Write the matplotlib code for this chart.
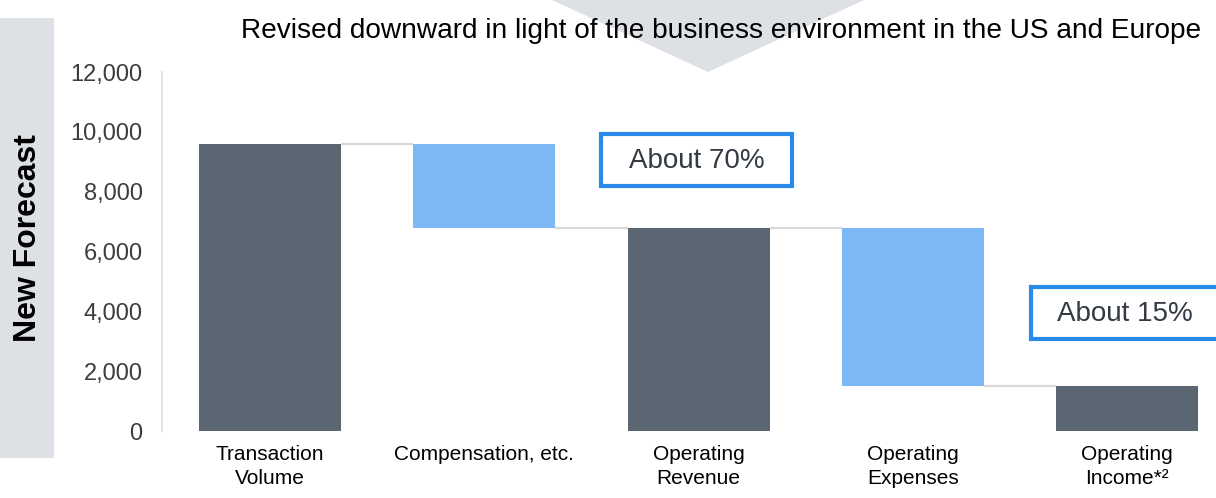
import matplotlib
matplotlib.use('Agg')
import matplotlib.pyplot as plt
from matplotlib.patches import Rectangle, Polygon

plt.rcParams['font.family'] = ['Liberation Sans', 'DejaVu Sans']

categories = ['Transaction\nVolume', 'Compensation, etc.', 'Operating\nRevenue',
              'Operating\nExpenses', 'Operating\nIncome*²']
# totals are drawn from zero, changes hang from the previous level
amounts = [9600, -2800, 6800, -5300, 1500]
is_total = [True, False, True, False, True]
y_ticks = [0, 2000, 4000, 6000, 8000, 10000, 12000]
title = 'Revised downward in light of the business environment in the US and Europe'
side_label = 'New Forecast'
notes = ['About 70%', 'About 15%']

W, H = 1216, 498
dark = '#5b6673'
light = '#7bb8f5'
panel = '#dde0e5'
blue_edge = '#2a8ae8'


def fig_xy(x, y):
    return x / W, 1 - y / H


fig = plt.figure(figsize=(W / 100, H / 100), dpi=100)

# background shapes: side panel and the arrow head at the top
fig.add_artist(Rectangle(fig_xy(0, 458), 54 / W, 440 / H, transform=fig.transFigure,
                         facecolor=panel, edgecolor='none', zorder=0))
fig.add_artist(Polygon([fig_xy(552, 0), fig_xy(864, 0), fig_xy(708, 72)], closed=True,
                       transform=fig.transFigure, facecolor=panel, edgecolor='none', zorder=0))

fig.text(*fig_xy(28, 238), side_label, rotation=90, ha='center', va='center',
         fontsize=23, fontweight='bold', color='#000000')
fig.text(*fig_xy(721, 31), title, ha='center', va='center', fontsize=20.2, color='#000000')

ax = fig.add_axes([162 / W, (H - 431) / H, (W - 162) / W, (431 - 72) / H])
ax.patch.set_alpha(0)

bar_w = 0.663
level = 0
tops = []
for i, (amt, tot) in enumerate(zip(amounts, is_total)):
    if tot:
        bottom, height, col = 0, amt, dark
        level = amt
    else:
        bottom, height, col = level + amt, -amt, light
        level = level + amt
    ax.bar(i, height, bottom=bottom, width=bar_w, color=col, edgecolor='none', zorder=2)
    tops.append(level)

# connector lines between neighbouring bars
for i in range(len(amounts) - 1):
    ax.plot([i + bar_w / 2, i + 1 - bar_w / 2], [tops[i], tops[i]],
            color='#d9d9d9', lw=1.6, zorder=1, solid_capstyle='butt')

ax.set_xlim(-0.504, 4.415)
ax.set_ylim(0, 12000)
ax.set_yticks(y_ticks)
ax.set_yticklabels([f'{v:,}' for v in y_ticks], fontsize=17, color='#3d3d3d')
ax.set_xticks(range(len(categories)))
ax.set_xticklabels(categories, fontsize=15, color='#000000', linespacing=1.36)
ax.tick_params(length=0)
ax.tick_params(axis='x', pad=10)
ax.tick_params(axis='y', pad=14)
for s in ['top', 'right', 'bottom']:
    ax.spines[s].set_visible(False)
ax.spines['left'].set_color('#e3e3e8')
ax.spines['left'].set_linewidth(1.5)

# callout boxes with the ratios
boxes = [(601, 134, 191, 52), (1031, 287, 188, 52)]
for (bx, by, bw, bh), note in zip(boxes, notes):
    fig.add_artist(Rectangle(fig_xy(bx, by + bh), bw / W, bh / H, transform=fig.transFigure,
                             facecolor='white', edgecolor=blue_edge, lw=3, zorder=5))
    fig.text(*fig_xy(bx + bw / 2, by + bh / 2 + 1), note, ha='center', va='center',
             fontsize=20, color='#333a44', zorder=6)

fig.savefig('out.png', dpi=100)
